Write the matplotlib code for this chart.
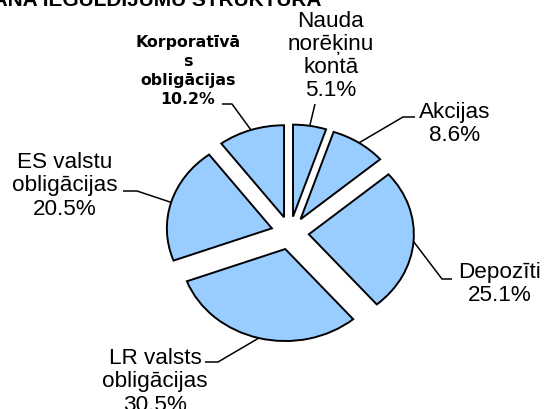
import numpy as np
import matplotlib
matplotlib.use('Agg')
import matplotlib.pyplot as plt

# ── Data ──────────────────────────────────────────────────────────────────────
labels = ['Nauda\nnorēķinu\nkontā', 'Akcijas', 'Depozīti',
          'LR valsts\nobligācijas', 'ES valstu\nobligācijas',
          'Korporatīvā\ns\nobligācijas']
shares = [5.1, 8.6, 25.1, 30.5, 20.5, 10.2]
title = 'PLĀNA IEGULDĪJUMU STRUKTŪRA'

# ── Layout (pixels, y down) ───────────────────────────────────────────────────
W, H = 547, 410
RX, RY = 105.0, 92.0          # ellipse radii in px
CX, CY = 290.0, 234.0         # pie centre in px
EXPLODE = 0.18

# label block centre, leader line end, knee (None = straight line)
label_pos = [(331, 56), (455, 124), (500, 284), (155, 382), (65, 186), (188, 71)]
line_end = [(315, 105), (415, 118), (452, 280), (205, 363), (123, 192), (222, 105)]
line_knee = [None, (403, 118), (442, 280), (218, 363), (137, 192), (232, 105)]
bold_label = [False, False, False, False, False, True]


def px(x, y):
    return x / RX, (H - y) / RY


plt.rcParams['font.family'] = ['Liberation Sans', 'DejaVu Sans']
fig = plt.figure(figsize=(W / 100, H / 100), dpi=100)
ax = fig.add_axes([0, 0, 1, 1])

ax.pie(shares, center=px(CX, CY), radius=1.0,
       explode=[EXPLODE] * len(shares),
       startangle=90, counterclock=False,
       colors=['#99ccff'] * len(shares),
       wedgeprops=dict(edgecolor='black', linewidth=1.4))
ax.set_aspect('auto')
ax.set_xlim(0, W / RX)
ax.set_ylim(0, H / RY)
ax.axis('off')

# leader lines anchored at each wedge's mid angle on the exploded rim
cum = np.cumsum([0] + shares)
total = cum[-1]
cx, cy = px(CX, CY)
for i, v in enumerate(shares):
    mid = np.deg2rad(360.0 * (cum[i] + v / 2) / total)   # clockwise from top
    r = 1.0 + EXPLODE
    ax_, ay_ = cx + r * np.sin(mid), cy + r * np.cos(mid)
    pts = [px(*line_end[i])]
    if line_knee[i] is not None:
        pts.append(px(*line_knee[i]))
    pts.append((ax_, ay_))
    xs, ys = zip(*pts)
    ax.plot(xs, ys, color='black', lw=1.1, solid_capstyle='butt')

    txt = '{}\n{:.1f}%'.format(labels[i], v)
    if bold_label[i]:
        ax.text(*px(*label_pos[i]), txt, ha='center', va='center',
                family='DejaVu Sans', fontsize=11.3, fontweight='bold',
                linespacing=1.35)
    else:
        ax.text(*px(*label_pos[i]), txt, ha='center', va='center',
                fontsize=16.2, linespacing=1.13)

# title, mostly cut off at the top edge as in the source image
fig.text(322 / W, 1 - 6 / H, title, ha='right', va='baseline',
         fontsize=15, fontweight='bold')

fig.savefig('out.png', dpi=100)
